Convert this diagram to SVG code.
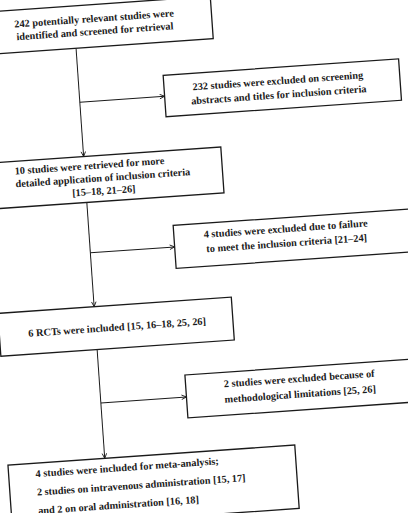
<svg xmlns="http://www.w3.org/2000/svg" width="408" height="513" viewBox="0 0 408 513">
<style>
.box{fill:#fff;stroke:#1a1a1a;stroke-width:1.3}
.t{font-family:"Liberation Serif","Times New Roman",serif;font-size:10.3px;font-weight:bold;fill:#1a1a1a}
.m{text-anchor:middle}
.c{fill:none;stroke:#1a1a1a;stroke-width:1}
</style>
<defs>
<marker id="arr" viewBox="0 0 8 8" refX="7.5" refY="4" markerWidth="6" markerHeight="6" markerUnits="userSpaceOnUse" orient="auto">
<path d="M1,1 L7.5,4 L1,7" fill="none" stroke="#1a1a1a" stroke-width="1.2"/>
</marker>
</defs>
<rect width="408" height="513" fill="#fff"/>
<g transform="rotate(-4)">
<g id="connectors">
<path class="c" d="M72.5,53.5 V162" marker-end="url(#arr)"/>
<path class="c" d="M72.5,208 V312.5" marker-end="url(#arr)"/>
<path class="c" d="M72.5,355.5 V464.5" marker-end="url(#arr)"/>
<path class="c" d="M72.5,107.5 H157.5" marker-end="url(#arr)"/>
<path class="c" d="M72.5,258.5 H157" marker-end="url(#arr)"/>
<path class="c" d="M72.5,409 H158.3" marker-end="url(#arr)"/>
</g>
<g id="n1">
<rect class="box" x="-25" y="11" width="235" height="42.5"/>
<text class="t m" x="92.5" y="28.5">242 potentially relevant studies were</text>
<text class="t m" x="92.5" y="41.3">identified and screened for retrieval</text>
</g>
<g id="n2">
<rect class="box" x="157.5" y="86.5" width="236" height="41.5"/>
<text class="t m" x="271.5" y="103.5">232 studies were excluded on screening</text>
<text class="t m" x="271.5" y="117.5">abstracts and titles for inclusion criteria</text>
</g>
<g id="n3">
<rect class="box" x="-25" y="162" width="235" height="46"/>
<text class="t" x="2.7" y="175">10 studies were retrieved for more</text>
<text class="t" x="2.7" y="188">detailed application of inclusion criteria</text>
<text class="t m" x="90.3" y="201">[15–18, 21–26]</text>
</g>
<g id="n4">
<rect class="box" x="157" y="237" width="237" height="43"/>
<text class="t m" x="269" y="251.5">4 studies were excluded due to failure</text>
<text class="t m" x="269" y="266">to meet the inclusion criteria [21–24]</text>
</g>
<g id="n5">
<rect class="box" x="-24" y="312.5" width="234" height="43"/>
<text class="t m" x="94" y="338">6 RCTs were included [15, 16–18, 25, 26]</text>
</g>
<g id="n6">
<rect class="box" x="158.3" y="387" width="236" height="43"/>
<text class="t m" x="272" y="402">2 studies were excluded because of</text>
<text class="t m" x="272" y="417.5">methodological limitations [25, 26]</text>
</g>
<g id="n7">
<rect class="box" x="-24.5" y="464.5" width="287.5" height="63.5"/>
<text class="t" x="2.5" y="478.5">4 studies were included for meta-analysis;</text>
<text class="t" x="2.5" y="497">2 studies on intravenous administration [15, 17]</text>
<text class="t" x="2.5" y="515.5">and 2 on oral administration [16, 18]</text>
</g>
</g>
</svg>
